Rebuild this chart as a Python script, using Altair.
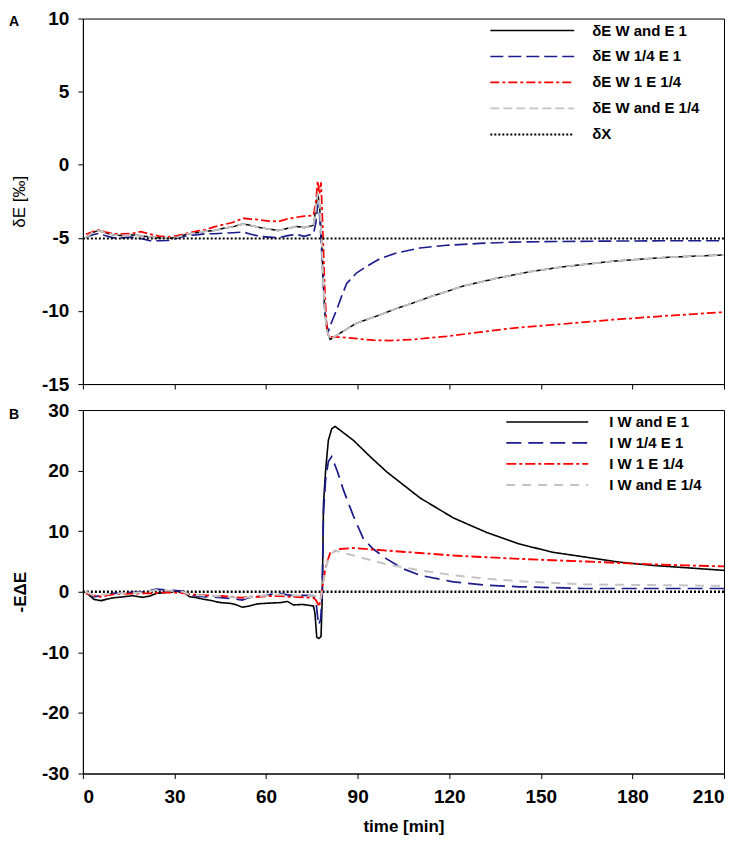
import altair as alt
import pandas as pd

FONT = "Liberation Sans"

# ---------------- Panel A: delta_E ----------------
a_names = ["δE W and E 1", "δE W 1/4 E 1", "δE W 1 E 1/4", "δE W and E 1/4", "δX"]
a_colors = ["#000000", "#1c1c8c", "#ff0000", "#c4c4c4", "#000000"]
a_dashes = [[1, 0], [13, 5], [9, 3, 3, 3], [9, 4], [2, 2]]
a_widths = [1.5, 2, 2, 2, 2.5]

a_pre_t = [1, 3, 5, 7.5, 10, 13, 16, 19, 22, 25, 28, 31, 34, 37, 40, 43, 46, 49,
           52.5, 55, 58, 61, 64, 67, 70, 72.5, 75.5]

a_black_t = a_pre_t + [76.3, 76.9, 77.5, 78.1, 78.7, 79.3, 80.0, 81.0,
                       83.4, 86.4, 89.7, 97.3, 102.5, 108.2, 113.5, 119, 124.5,
                       135.4, 146.3, 157.2, 173.5, 189.8, 200, 210]
a_black_v = [-5.0, -4.65, -4.5, -4.65, -4.8, -4.85, -4.8, -4.85, -4.95, -5.0, -5.05,
             -4.95, -4.75, -4.65, -4.55, -4.5, -4.35, -4.25, -4.05, -4.15, -4.3, -4.4,
             -4.5, -4.35, -4.22, -4.3, -4.15,
             -3.0, -1.95, -2.7, -4.8, -7.8, -10.2, -11.4, -11.95,
             -11.63, -11.24, -10.83, -10.27, -9.85, -9.45, -9.05, -8.68, -8.3,
             -7.77, -7.32, -6.98, -6.6, -6.35, -6.25, -6.17]

a_blue_t = a_pre_t + [76.3, 76.9, 77.5, 78.1, 78.7, 79.3, 80.0, 80.5,
                      81, 82, 83.1, 84.7, 86.4, 89.7, 93, 97.3, 102.8, 110.4,
                      119.1, 130, 140.8, 155, 173.4, 190, 210]
a_blue_v = [-4.95, -4.8, -4.7, -4.85, -5.0, -5.0, -4.95, -5.05, -5.2, -5.2, -5.18,
            -5.0, -4.85, -4.8, -4.72, -4.72, -4.68, -4.65, -4.6, -4.75, -4.9, -4.95,
            -5.0, -4.85, -4.77, -4.9, -4.72,
            -4.0, -2.7, -3.4, -5.5, -8.0, -10.2, -11.1, -11.35,
            -11.0, -10.5, -9.93, -9.02, -8.12, -7.39, -6.94, -6.42, -6.03, -5.69,
            -5.51, -5.38, -5.29, -5.25, -5.22, -5.2, -5.2]

a_red_t = a_pre_t + [76.3, 76.9, 77.5, 78.0, 78.6, 79.3, 80.0, 80.6,
                     81, 85, 90, 95, 100.6, 108, 119, 130, 141, 157, 173.5, 190, 210]
a_red_v = [-4.75, -4.6, -4.45, -4.6, -4.72, -4.72, -4.7, -4.58, -4.75, -4.88, -4.95,
           -4.85, -4.7, -4.55, -4.45, -4.25, -4.1, -3.95, -3.66, -3.72, -3.77, -3.85,
           -3.88, -3.7, -3.59, -3.52, -3.47,
           -2.6, -1.1, -2.0, -1.2, -4.5, -9.0, -11.4, -11.75,
           -11.78, -11.8, -11.9, -12.0, -12.03, -11.95, -11.74, -11.45, -11.17,
           -10.9, -10.6, -10.35, -10.08]

# grey curve lies exactly on the black one in panel A
a_grey_t = a_black_t
a_grey_v = [-5.0, -4.65, -4.5, -4.65, -4.8, -4.85, -4.8, -4.85, -4.95, -5.0, -5.05,
            -4.95, -4.75, -4.65, -4.55, -4.5, -4.35, -4.25, -4.05, -4.15, -4.3, -4.4,
            -4.5, -4.35, -4.22, -4.3, -4.15,
            -3.0, -1.95, -2.7, -4.8, -7.8, -10.2, -11.4, -11.95,
            -11.63, -11.24, -10.83, -10.27, -9.85, -9.45, -9.05, -8.68, -8.3,
            -7.77, -7.32, -6.98, -6.6, -6.35, -6.25, -6.17]

a_x_t = [0, 210]
a_x_v = [-5.05, -5.05]

# ---------------- Panel B: -E Delta_E ----------------
b_names = ["I W and E 1", "I W 1/4 E 1", "I W 1 E 1/4", "I W and E 1/4"]
b_colors = ["#000000", "#1c1c8c", "#ff0000", "#c4c4c4"]
b_dashes = [[1, 0], [15, 7], [10, 3, 3, 3], [9, 7]]
b_widths = [1.6, 2, 2, 2]

b_pre_t = [1, 3.6, 5.9, 8, 10.2, 13, 16.3, 19.6, 22, 24, 26, 28.3, 30.5, 32.7, 34.9,
           37, 39.2, 42, 45, 48, 50, 52.2, 54, 57.2, 60, 62, 64.7, 67, 69, 72, 75.5]

b_black_t = b_pre_t + [76.0, 76.6, 77.3, 78.0, 78.4, 78.8, 79.5, 80.4, 81.5,
                       82.6, 88.6, 94.1, 99.5, 110.4, 121.3, 132.2, 143, 153.9,
                       164.8, 175.7, 186.6, 197.5, 210]
b_black_v = [-0.1, -1.25, -1.47, -1.2, -0.98, -0.85, -0.65, -0.92, -0.7, -0.27, -0.2,
             0.0, 0.05, 0.1, -0.82, -0.95, -1.2, -1.45, -1.79, -1.9, -2.1, -2.55, -2.4,
             -2.0, -1.9, -1.85, -1.79, -1.6, -2.17, -2.1, -2.34,
             -3.5, -7.5, -7.7, -7.4, -1.0, 14.5, 20.0, 25.0, 26.9,
             27.3, 25.0, 22.3, 19.8, 15.5, 12.2, 9.8, 7.88, 6.52, 5.71, 4.89, 4.35,
             3.97, 3.53]

b_blue_t = b_pre_t + [76.3, 77.2, 77.9, 78.4, 78.8, 79.5, 80.4, 81.5,
                      83.4, 85.3, 88.6, 91.9, 95.1, 99.5, 104.9, 110.4, 121.3, 132.2,
                      143, 164.8, 186.6, 210]
b_blue_v = [0.0, -0.82, -0.65, -0.45, -0.27, -0.2, -0.1, 0.0, 0.2, 0.43, 0.35, 0.27,
            0.2, 0.1, -0.54, -0.7, -0.82, -0.85, -0.95, -1.1, -1.2, -1.36, -1.0, -0.82,
            -0.6, -0.4, -0.27, -0.5, -0.65, -0.6, -0.65,
            -1.5, -5.5, -4.5, 0.0, 13.0, 18.5, 21.5, 22.3,
            19.8, 16.85, 12.5, 8.7, 7.06, 5.43, 3.8, 2.72, 1.63, 1.09, 0.82, 0.54,
            0.54, 0.54]

b_red_t = b_pre_t + [76.5, 77.3, 77.8, 78.4, 79.4, 80.2, 81.0, 81.5,
                     84.3, 88.6, 99.5, 110.4, 121.3, 132.2, 143, 153.9, 164.8, 175.7,
                     186.6, 197.5, 210]
b_red_v = [-0.27, -0.6, -0.82, -0.6, -0.43, -0.35, -0.3, -0.27, -0.27, -0.2, -0.15,
           -0.1, -0.15, -0.2, -0.43, -0.5, -0.55, -0.65, -0.7, -0.8, -0.9, -0.98, -0.82,
           -0.82, -0.75, -0.7, -0.7, -0.8, -0.85, -0.9, -0.98,
           -1.5, -2.45, -1.5, 0.5, 3.8, 5.2, 6.4, 6.52,
           7.06, 7.23, 6.8, 6.4, 5.98, 5.7, 5.43, 5.2, 5.0, 4.75, 4.52, 4.35, 4.19]

b_grey_t = b_pre_t + [76.5, 77.3, 78.0, 78.4, 79.4, 80.2, 81.2, 82.6,
                      88.6, 99.5, 110.4, 121.3, 132.2, 143, 164.8, 186.6, 210]
b_grey_v = [0.0, -0.6, -0.5, -0.4, -0.3, -0.25, -0.2, -0.1, 0.1, 0.3, 0.25, 0.2, 0.1,
            0.0, -0.45, -0.55, -0.6, -0.7, -0.75, -0.85, -0.95, -1.1, -0.9, -0.75, -0.6,
            -0.5, -0.45, -0.55, -0.6, -0.6, -0.6,
            -0.8, -1.5, -1.0, 0.5, 3.6, 5.0, 6.2, 6.8,
            5.98, 4.52, 3.54, 2.72, 2.17, 1.74, 1.2, 1.1, 0.98]

b_zero_t = [0, 210]
b_zero_v = [0, 0]

x_ticks = [0, 30, 60, 90, 120, 150, 180, 210]
a_y_ticks = [-15, -10, -5, 0, 5, 10]
b_y_ticks = [-30, -20, -10, 0, 10, 20, 30]

HYPHEN = "replace(datum.label, '\u2212', '-')"


def frame(names, series):
    rows = []
    for name, (ts, vs) in zip(names, series):
        for t, v in zip(ts, vs):
            rows.append({"series": name, "t": t, "v": v})
    return pd.DataFrame(rows)


df_a = frame(a_names, [(a_black_t, a_black_v), (a_blue_t, a_blue_v), (a_red_t, a_red_v),
                       (a_grey_t, a_grey_v), (a_x_t, a_x_v)])
df_b = frame(b_names, [(b_black_t, b_black_v), (b_blue_t, b_blue_v), (b_red_t, b_red_v),
                       (b_grey_t, b_grey_v)])
df_b0 = pd.DataFrame({"t": b_zero_t, "v": b_zero_v})


def legend(x, y, size, clip, offset):
    return alt.Legend(title=None, orient="none", legendX=x, legendY=y,
                      symbolType="stroke", symbolSize=size, symbolStrokeWidth=2,
                      clipHeight=clip, rowPadding=6, labelOffset=offset, padding=0,
                      labelFont=FONT, labelFontSize=15, labelFontWeight="bold",
                      labelColor="black", labelLimit=300)


# ---- panel A ----
xa = alt.X("t:Q", scale=alt.Scale(domain=[0, 210], nice=False, zero=False),
           axis=alt.Axis(values=x_ticks, labels=False, title=None))
ya = alt.Y("v:Q", scale=alt.Scale(domain=[-15, 10], nice=False, zero=False),
           axis=alt.Axis(values=a_y_ticks, labelExpr=HYPHEN, title="δE [‰]",
                         titleFontWeight="normal", titleFontSize=17,
                         titleX=-63, titleBaseline="middle"))
leg_a = legend(407, 2, 7056, 20, 17)
lines_a = alt.Chart(df_a).mark_line().encode(
    x=xa, y=ya,
    color=alt.Color("series:N", scale=alt.Scale(domain=a_names, range=a_colors), legend=leg_a),
    strokeDash=alt.StrokeDash("series:N", scale=alt.Scale(domain=a_names, range=a_dashes), legend=leg_a),
    strokeWidth=alt.StrokeWidth("series:N", scale=alt.Scale(domain=a_names, range=a_widths), legend=None),
)
lab_a = alt.Chart(pd.DataFrame({"lab": ["A"]})).mark_text(
    align="left", baseline="middle", font=FONT, fontSize=14, fontWeight="bold", color="black"
).encode(x=alt.value(-74), y=alt.value(3), text="lab:N")
panel_a = alt.layer(lines_a, lab_a).properties(width=642, height=366)

# ---- panel B ----
xb = alt.X("t:Q", scale=alt.Scale(domain=[0, 210], nice=False, zero=False),
           axis=alt.Axis(values=x_ticks, title="time [min]", titleFontSize=17,
                         titleFontWeight="bold", titlePadding=12))
yb = alt.Y("v:Q", scale=alt.Scale(domain=[-30, 30], nice=False, zero=False),
           axis=alt.Axis(values=b_y_ticks, labelExpr=HYPHEN, title="-EΔE",
                         titleFontWeight="bold", titleFontSize=17,
                         titleX=-62, titleBaseline="middle"))
leg_b = legend(423, 5, 6724, 14, 20)
zero_b = alt.Chart(df_b0).mark_line(color="black", strokeDash=[2, 2], strokeWidth=2.5).encode(x=xb, y=yb)
lines_b = alt.Chart(df_b).mark_line().encode(
    x=xb, y=yb,
    color=alt.Color("series:N", scale=alt.Scale(domain=b_names, range=b_colors), legend=leg_b),
    strokeDash=alt.StrokeDash("series:N", scale=alt.Scale(domain=b_names, range=b_dashes), legend=leg_b),
    strokeWidth=alt.StrokeWidth("series:N", scale=alt.Scale(domain=b_names, range=b_widths), legend=None),
)
lab_b = alt.Chart(pd.DataFrame({"lab": ["B"]})).mark_text(
    align="left", baseline="middle", font=FONT, fontSize=14, fontWeight="bold", color="black"
).encode(x=alt.value(-74), y=alt.value(5), text="lab:N")
panel_b = alt.layer(zero_b, lines_b, lab_b).properties(width=642, height=364)

chart = alt.vconcat(panel_a, panel_b, spacing=5).resolve_scale(
    x="independent", y="independent", color="independent",
    strokeDash="independent", strokeWidth="independent"
).properties(
    padding={"left": 0, "top": 0, "right": 5, "bottom": 0}
).configure_view(
    stroke="black", strokeWidth=1
).configure_axis(
    labelFont=FONT, labelFontSize=19, labelFontWeight="bold", labelColor="black",
    titleFont=FONT, titleColor="black", domainColor="black", tickColor="black",
    grid=False, tickSize=5, labelPadding=9, domainWidth=1, tickWidth=1
)

chart.save("out.html", embed_options={"renderer": "svg", "actions": False})
